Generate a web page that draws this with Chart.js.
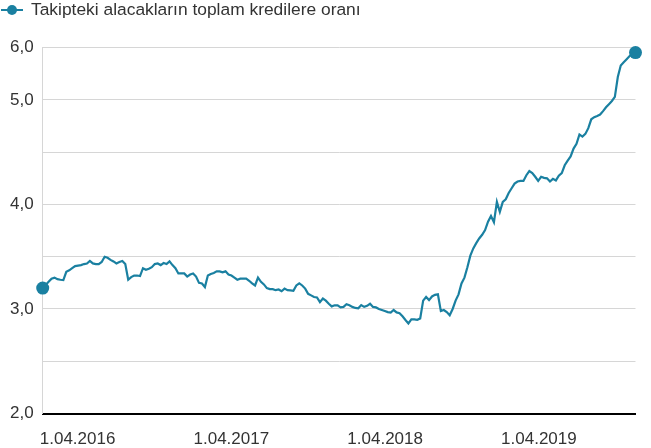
<!DOCTYPE html>
<html>
<head>
<meta charset="utf-8">
<script src="https://cdn.jsdelivr.net/npm/chart.js@4.4.1/dist/chart.umd.min.js"></script>
<style>
  html, body { margin: 0; padding: 0; background: #fff; }
  #wrap { width: 651px; height: 448px; }
</style>
</head>
<body>
<div id="wrap"><canvas id="chart" width="651" height="448"></canvas></div>
<script>
// ---- data (weekly) ----
const seriesLabel = 'Takipteki alacakların toplam kredilere oranı';
const firstWeek = '2016-04-08';
const nplRatio = [
  3.20, 3.23, 3.26, 3.29, 3.30, 3.285, 3.28, 3.276, 3.356, 3.37,
  3.39, 3.41, 3.415, 3.42, 3.43, 3.435, 3.46, 3.436, 3.43, 3.43,
  3.45, 3.50, 3.49, 3.47, 3.455, 3.436, 3.45, 3.46, 3.43, 3.28,
  3.305, 3.32, 3.32, 3.315, 3.39, 3.375, 3.385, 3.40, 3.43, 3.435,
  3.42, 3.44, 3.43, 3.455, 3.42, 3.39, 3.34, 3.34, 3.34, 3.31,
  3.33, 3.34, 3.31, 3.25, 3.244, 3.21, 3.32, 3.335, 3.345, 3.36,
  3.36, 3.35, 3.36, 3.33, 3.32, 3.30, 3.28, 3.29, 3.29, 3.29,
  3.27, 3.245, 3.225, 3.30, 3.26, 3.235, 3.20, 3.19, 3.19, 3.18,
  3.187, 3.17, 3.195, 3.18, 3.178, 3.174, 3.225, 3.245, 3.225, 3.195,
  3.145, 3.13, 3.115, 3.11, 3.065, 3.10, 3.08, 3.05, 3.025, 3.035,
  3.035, 3.015, 3.02, 3.045, 3.035, 3.02, 3.01, 3.006, 3.037, 3.02,
  3.03, 3.05, 3.02, 3.015, 3.00, 2.99, 2.98, 2.97, 2.965, 2.99,
  2.967, 2.96, 2.93, 2.895, 2.862, 2.90, 2.90, 2.897, 2.91, 3.08,
  3.115, 3.085, 3.12, 3.135, 3.14, 2.98, 2.99, 2.97, 2.94, 3.00,
  3.08, 3.14, 3.245, 3.30, 3.40, 3.51, 3.58, 3.63, 3.675, 3.71,
  3.755, 3.835, 3.89, 3.83, 4.025, 3.93, 4.025, 4.05, 4.11, 4.155,
  4.20, 4.22, 4.225, 4.225, 4.28, 4.32, 4.30, 4.265, 4.225, 4.265,
  4.255, 4.25, 4.22, 4.245, 4.23, 4.275, 4.30, 4.375, 4.42, 4.46,
  4.535, 4.58, 4.67, 4.65, 4.675, 4.73, 4.815, 4.835, 4.847, 4.86,
  4.893, 4.93, 4.96, 4.99, 5.03, 5.22, 5.33, 5.36, 5.39, 5.42,
  5.44, 5.453
];
const xTickLabels = ['1.04.2016', '1.04.2017', '1.04.2018', '1.04.2019'];
const yMin = 2, yMax = 5.5, yStep = 0.5;

// ---- style ----
const lineColor = '#1a80a1';
const textColor = '#333333';
const gridColor = '#d6d6d6';
const fontFamily = "'Liberation Sans', Arial, sans-serif";

const DAY = 86400000;
const start = Date.parse(firstWeek + 'T00:00:00Z');
const points = nplRatio.map((v, i) => ({ x: i * 7, y: v }));
const tickDays = xTickLabels.map(s => {
  const [d, m, y] = s.split('.').map(Number);
  return (Date.UTC(y, m - 1, d) - start) / DAY;
});
const last = points.length - 1;

// legend: short line with a dot, like the original
const lineLegend = {
  id: 'lineLegend',
  afterDraw(chart) {
    const ctx = chart.ctx;
    const ds = chart.data.datasets[0];
    ctx.save();
    ctx.strokeStyle = ds.borderColor;
    ctx.lineWidth = 2;
    ctx.beginPath();
    ctx.moveTo(1, 10);
    ctx.lineTo(23, 10);
    ctx.stroke();
    ctx.fillStyle = ds.borderColor;
    ctx.beginPath();
    ctx.arc(12, 10, 5, 0, Math.PI * 2);
    ctx.fill();
    ctx.fillStyle = textColor;
    ctx.font = `17.4px ${fontFamily}`;
    ctx.textBaseline = 'middle';
    ctx.fillText(ds.label, 31, 10.5);
    ctx.restore();
  }
};

new Chart(document.getElementById('chart'), {
  type: 'line',
  data: {
    datasets: [{
      label: seriesLabel,
      data: points,
      borderColor: lineColor,
      backgroundColor: lineColor,
      borderWidth: 2.2,
      tension: 0,
      clip: false,
      pointRadius: ctx => (ctx.dataIndex === 0 || ctx.dataIndex === last) ? 6.5 : 0,
      pointBorderWidth: 0,
      pointBackgroundColor: lineColor,
      pointHoverRadius: 0
    }]
  },
  options: {
    responsive: false,
    animation: false,
    devicePixelRatio: 1,
    layout: { padding: { top: 47.7, right: 15.5, bottom: 0, left: 0 } },
    plugins: {
      legend: { display: false },
      tooltip: { enabled: false }
    },
    scales: {
      x: {
        type: 'linear',
        min: 0,
        max: last * 7,
        afterBuildTicks: scale => { scale.ticks = tickDays.map(v => ({ value: v })); },
        afterFit: scale => { scale.height = 34.5; },
        grid: { display: false },
        border: { display: true, color: '#000000', width: 2 },
        ticks: {
          autoSkip: false,
          maxRotation: 0,
          align: 'start',
          padding: 8,
          color: textColor,
          font: { family: fontFamily, size: 17 },
          callback: (v, i) => xTickLabels[i]
        }
      },
      y: {
        min: yMin,
        max: yMax,
        afterFit: scale => { scale.width = 42.7; },
        grid: {
          drawTicks: false,
          color: ctx => (ctx.tick && ctx.tick.value === yMin) ? 'rgba(0,0,0,0)' : gridColor,
          lineWidth: 1
        },
        border: { display: true, color: gridColor, width: 1 },
        ticks: {
          stepSize: yStep,
          padding: 9,
          color: textColor,
          font: { family: fontFamily, size: 17 },
          callback: v => (Number.isInteger(v) || v === yMax)
            ? Math.round(v).toFixed(1).replace('.', ',')
            : ''
        }
      }
    }
  },
  plugins: [lineLegend]
});
</script>
</body>
</html>
